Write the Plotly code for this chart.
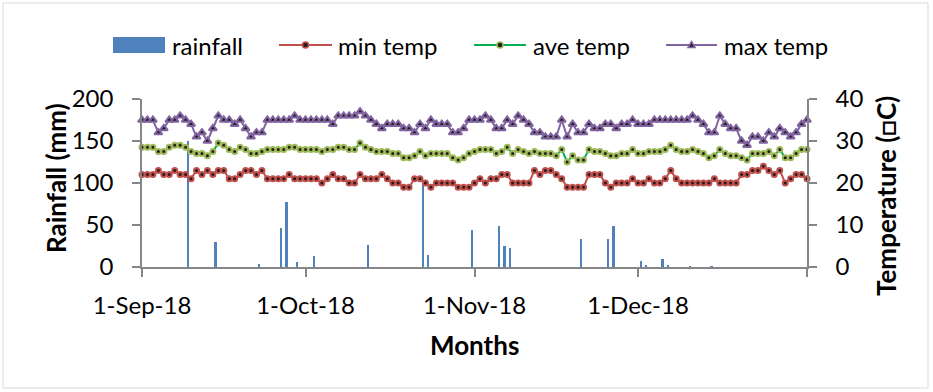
import pandas as pd
import plotly.graph_objects as go

# ---------------- data ----------------
start_date = "2018-09-01"

rain_sep = [0, 0, 0, 0, 0, 0, 0, 0, 150, 0, 0, 0, 0, 30, 0, 0, 0, 0, 0, 0,
            0, 4, 0, 0, 0, 46, 77, 0, 6, 0]
rain_oct = [0, 13, 0, 0, 0, 0, 0, 0, 0, 0, 0, 26, 0, 0, 0, 0, 0, 0, 0, 0,
            0, 103, 14, 0, 0, 0, 0, 0, 0, 0, 44]
rain_nov = [0, 0, 0, 0, 49, 25, 23, 0, 0, 0, 0, 0, 0, 0, 0, 0, 0, 0, 0, 33,
            0, 0, 0, 0, 33, 49, 0, 0, 0, 0]
rain_dec = [7, 2, 0, 0, 9, 2, 0, 0, 0, 1, 0, 0, 0, 1, 0, 0, 0, 0, 0, 0,
            0, 0, 0, 0, 0, 0, 0, 0, 0, 0, 0]
rain_jan = [0]

min_sep = [22, 22, 22, 23, 22, 22, 23, 22, 22, 21, 23, 22, 23, 22, 23, 23, 21, 21, 22, 23,
           23, 22, 23, 21, 21, 21, 21, 22, 21, 21]
min_oct = [21, 21, 21, 20, 21, 22, 21, 21, 20, 20, 22, 21, 21, 21, 22, 21, 20, 20, 19, 19,
           21, 21, 20, 19, 20, 20, 20, 20, 19, 19, 19]
min_nov = [20, 21, 20, 21, 21, 22, 22, 20, 20, 20, 20, 23, 22, 23, 23, 22, 21, 19, 19, 19,
           19, 22, 22, 22, 20, 19, 20, 20, 20, 21]
min_dec = [20, 20, 21, 20, 20, 21, 23, 21, 20, 20, 20, 20, 20, 20, 21, 20, 20, 20, 20, 22,
           22, 23, 23, 24, 23, 22, 23, 20, 21, 22, 22]
min_jan = [21]

ave_sep = [28.5, 28.5, 28.5, 27.5, 27.5, 28.5, 29, 29, 28.5, 27.5, 27, 27, 26.5, 27.5, 29.5,
           29, 28, 27.5, 28.5, 28, 27, 27, 27.5, 28, 28, 28, 28, 28.5, 28.5, 28]
ave_oct = [28, 28, 28, 27.5, 28, 28, 28.5, 28.5, 28, 28, 29.5, 28.5, 28, 27.5, 27.5, 27.5,
           27, 27, 26, 26, 26.5, 27.5, 26.5, 27, 27, 27, 27, 26, 25.5, 26, 27]
ave_nov = [27.5, 28, 28, 28, 27, 27.5, 28.5, 27, 28, 27.5, 27, 27.5, 27, 27, 27, 26.5, 28,
           25, 26.5, 25.5, 25.5, 28, 27.5, 27.5, 27, 26.5, 26.5, 27, 27, 28]
ave_dec = [27, 27, 27.5, 27.5, 27.5, 28, 29, 28, 27.5, 27.5, 28, 27.5, 27, 26, 26.5, 28, 27,
           26.5, 26.5, 26, 25.5, 27, 27, 27, 27.5, 26.5, 28, 26, 26, 27, 28]
ave_jan = [28]

max_sep = [35, 35, 35, 32, 33, 35, 35, 36, 35, 34, 31, 32, 30, 33, 36, 35, 35, 34, 35, 33,
           31, 32, 32, 35, 35, 35, 35, 35, 36, 35]
max_oct = [35, 35, 35, 35, 35, 34, 36, 36, 36, 36, 37, 36, 35, 34, 33, 34, 34, 34, 33, 33,
           32, 34, 33, 35, 34, 34, 34, 32, 32, 33, 35]
max_nov = [35, 35, 36, 35, 33, 33, 35, 34, 36, 35, 34, 32, 32, 31, 31, 31, 35, 31, 34, 32,
           32, 34, 33, 33, 34, 34, 33, 34, 34, 35]
max_dec = [34, 34, 34, 35, 35, 35, 35, 35, 35, 35, 36, 35, 34, 32, 32, 36, 34, 33, 33, 30,
           29, 31, 31, 30, 32, 31, 33, 32, 31, 32, 34]
max_jan = [35]

rainfall = rain_sep + rain_oct + rain_nov + rain_dec + rain_jan
min_temp = min_sep + min_oct + min_nov + min_dec + min_jan
ave_temp = ave_sep + ave_oct + ave_nov + ave_dec + ave_jan
max_temp = max_sep + max_oct + max_nov + max_dec + max_jan

dates = pd.date_range(start_date, periods=len(min_temp), freq="D")

x_tick_vals = ["2018-09-01", "2018-10-01", "2018-11-01", "2018-12-01", "2019-01-01"]
x_tick_text = ["1-Sep-18", "1-Oct-18", "1-Nov-18", "1-Dec-18", ""]
rain_ticks = [0, 50, 100, 150, 200]
temp_ticks = [0, 10, 20, 30, 40]

series_names = ["rainfall", "min temp", "ave temp", "max temp"]

# ---------------- styling ----------------
FONT = "Lato"
AXIS_GREY = "#868686"
C_BAR = "#4F81BD"
C_MIN = "#C0504D"
C_AVE_LINE = "#00B050"
C_AVE_MARK = "#9BBB59"
C_MAX = "#8064A2"
DARK = "#2a1a1a"

W, H = 933, 392
PL, PR, PT, PB = 142, 807, 99, 267


def px_x(px):
    return (px - PL) / (PR - PL)


def px_y(py):
    return (PB - py) / (PB - PT)


DAY_MS = 86400000

fig = go.Figure()
fig.add_trace(go.Bar(
    x=dates, y=rainfall, name=series_names[0], yaxis="y",
    marker=dict(color=C_BAR, line=dict(width=0)),
    width=0.42 * DAY_MS, xperiod=DAY_MS, xperiodalignment="middle",
    showlegend=False,
))
fig.add_trace(go.Scatter(
    x=dates, y=min_temp, name=series_names[1], yaxis="y2", mode="lines+markers",
    line=dict(color=C_MIN, width=2),
    marker=dict(symbol="circle", size=5, color=DARK, line=dict(color=C_MIN, width=2)),
    cliponaxis=False, showlegend=False,
))
fig.add_trace(go.Scatter(
    x=dates, y=ave_temp, name=series_names[2], yaxis="y2", mode="lines+markers",
    line=dict(color=C_AVE_LINE, width=2),
    marker=dict(symbol="circle", size=5, color=DARK, line=dict(color=C_AVE_MARK, width=2)),
    cliponaxis=False, showlegend=False,
))
fig.add_trace(go.Scatter(
    x=dates, y=max_temp, name=series_names[3], yaxis="y2", mode="lines+markers",
    line=dict(color=C_MAX, width=2),
    marker=dict(symbol="triangle-up", size=7, color=DARK, line=dict(color=C_MAX, width=2)),
    cliponaxis=False, showlegend=False,
))

shapes = []
annotations = []

# outer chart border
shapes.append(dict(type="rect", xref="paper", yref="paper",
                   x0=px_x(3), x1=px_x(928), y0=px_y(388), y1=px_y(3),
                   line=dict(color="#D9D9D9", width=1), fillcolor="rgba(0,0,0,0)", layer="below"))

# ---- custom legend ----
LEG_Y = 45
shapes.append(dict(type="rect", xref="paper", yref="paper",
                   x0=px_x(113), x1=px_x(165), y0=px_y(LEG_Y + 8), y1=px_y(LEG_Y - 8),
                   line=dict(width=0), fillcolor=C_BAR))
legend_lines = [
    (279, 332, C_MIN, C_MIN, "circle"),
    (474, 526, C_AVE_LINE, C_AVE_MARK, "circle"),
    (666, 717, C_MAX, C_MAX, "triangle"),
]
for x0, x1, lc, mc, sym in legend_lines:
    shapes.append(dict(type="line", xref="paper", yref="paper",
                       x0=px_x(x0), x1=px_x(x1), y0=px_y(LEG_Y), y1=px_y(LEG_Y),
                       line=dict(color=lc, width=2)))
    cx = px_x((x0 + x1) / 2)
    cy = px_y(LEG_Y)
    if sym == "circle":
        shapes.append(dict(type="circle", xref="paper", yref="paper",
                           xsizemode="pixel", ysizemode="pixel", xanchor=cx, yanchor=cy,
                           x0=-3, x1=3, y0=-3, y1=3,
                           line=dict(color=mc, width=1.5), fillcolor=DARK))
    else:
        shapes.append(dict(type="path", xref="paper", yref="paper",
                           xsizemode="pixel", ysizemode="pixel", xanchor=cx, yanchor=cy,
                           path="M -3.5,-2.5 L 3.5,-2.5 L 0,3.5 Z",
                           line=dict(color=mc, width=1.5), fillcolor=DARK))

legend_text_x = [170, 336, 531, 722]
for name, tx in zip(series_names, legend_text_x):
    annotations.append(dict(text=name, xref="paper", yref="paper", x=px_x(tx), y=px_y(LEG_Y),
                            xanchor="left", yanchor="middle", showarrow=False,
                            font=dict(family=FONT, size=24, color="black")))

# ---- axis titles ----
annotations.append(dict(text="<b>Rainfall (mm)</b>", xref="paper", yref="paper",
                        x=px_x(56), y=px_y(178), textangle=-90, showarrow=False,
                        xanchor="center", yanchor="middle",
                        font=dict(family=FONT, size=26, color="black")))
annotations.append(dict(text="<b>Temperature (\u25a1C)</b>", xref="paper", yref="paper",
                        x=px_x(886), y=px_y(196), textangle=-90, showarrow=False,
                        xanchor="center", yanchor="middle",
                        font=dict(family=FONT, size=26, color="black")))
annotations.append(dict(text="<b>Months</b>", xref="paper", yref="paper",
                        x=px_x(474), y=px_y(345), showarrow=False,
                        xanchor="center", yanchor="middle",
                        font=dict(family=FONT, size=26, color="black")))

axis_common = dict(showgrid=False, zeroline=False, showline=True, linecolor=AXIS_GREY,
                   linewidth=1.5, ticks="outside", ticklen=8, tickwidth=1.5,
                   tickcolor=AXIS_GREY, tickfont=dict(family=FONT, size=24, color="black"))

fig.update_layout(
    width=W, height=H,
    margin=dict(l=PL, r=W - PR, t=PT, b=H - PB, pad=0),
    paper_bgcolor="white", plot_bgcolor="white",
    font=dict(family=FONT, size=24, color="black"),
    showlegend=False,
    bargap=0,
    xaxis=dict(type="date", range=["2018-09-01", "2019-01-01"],
               tickmode="array", tickvals=x_tick_vals, ticktext=x_tick_text,
               ticklabelstandoff=8, **axis_common),
    yaxis=dict(range=[0, 200], tickmode="array", tickvals=rain_ticks,
               ticklabelstandoff=14, **axis_common),
    yaxis2=dict(range=[0, 40], tickmode="array", tickvals=temp_ticks, overlaying="y",
                side="right", ticklabelstandoff=14, **axis_common),
    shapes=shapes,
    annotations=annotations,
)

fig.write_html(
    "out.html",
    config={"displayModeBar": False},
    post_script="document.body.style.margin='0';document.body.style.padding='0';",
)
